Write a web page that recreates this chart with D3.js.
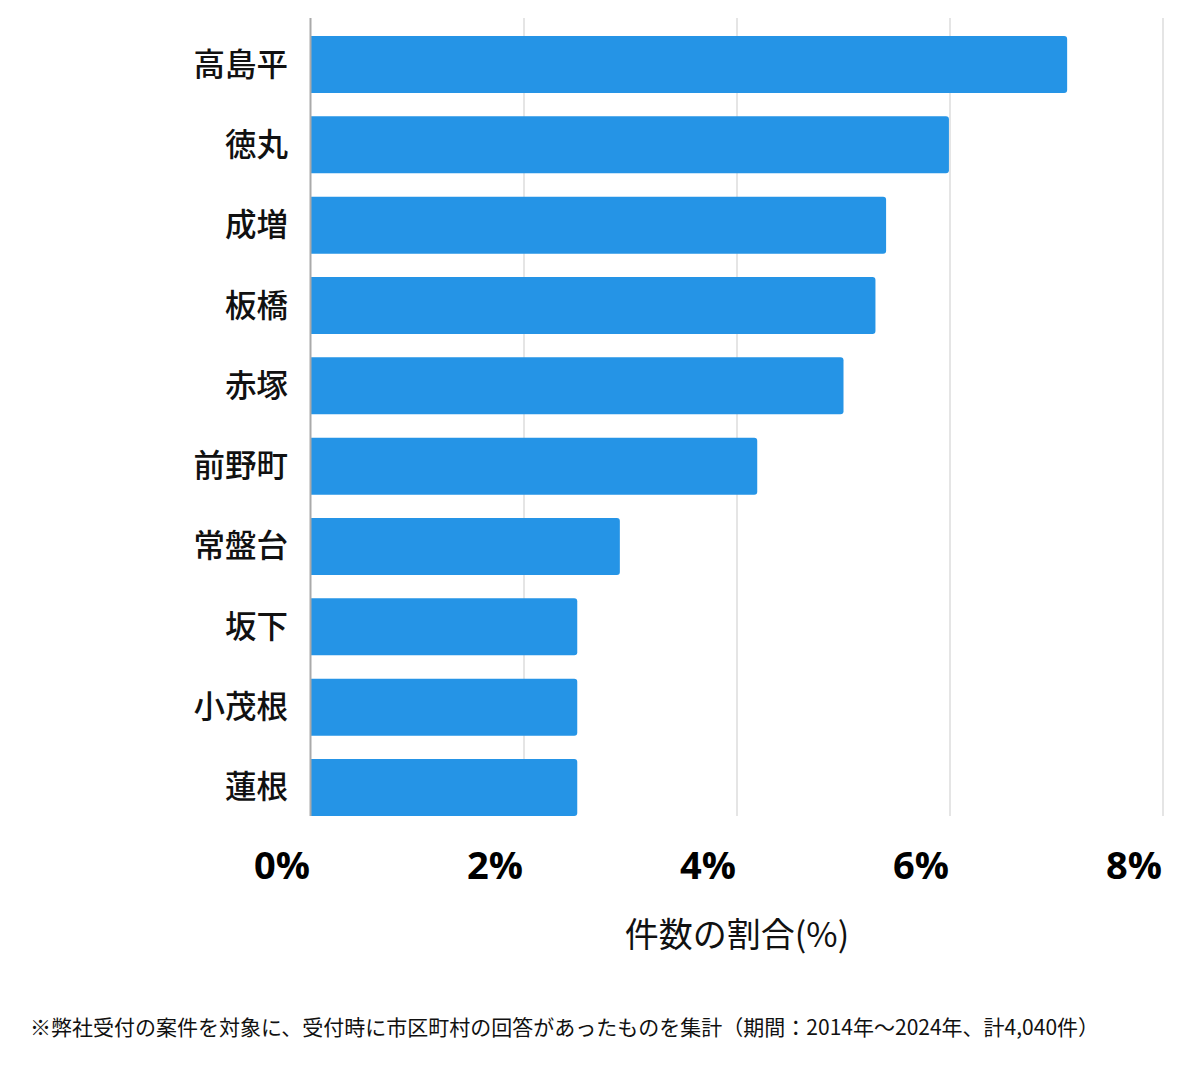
<!DOCTYPE html>
<html><head><meta charset="utf-8">
<script src="https://cdn.jsdelivr.net/npm/d3@7/dist/d3.min.js"></script>
<style>body{margin:0;background:#fff;font-family:"Noto Sans CJK JP","Noto Sans",sans-serif;}</style>
</head><body>
<svg id="c" width="1200" height="1069"></svg>
<script>
const categories = ["高島平","徳丸","成増","板橋","赤塚","前野町","常盤台","坂下","小茂根","蓮根"];
const values = [7.10, 5.99, 5.40, 5.30, 5.00, 4.19, 2.90, 2.50, 2.50, 2.50];
const ticks = [0, 2, 4, 6, 8];
const tickLabels = ["0%","2%","4%","6%","8%"];
const axisTitle = "件数の割合(%)";
const footnote = "※弊社受付の案件を対象に、受付時に市区町村の回答があったものを集計（期間：2014年～2024年、計4,040件）";

const svg = d3.select("#c");
const mLeft = 311, mRight = 1163, mTop = 18, mBottom = 834, gridBottom = 816;
const x = d3.scaleLinear().domain([0, 8]).range([mLeft, mRight]);
const y = d3.scaleBand().domain(categories).range([mTop, mBottom]).paddingInner(0.29).paddingOuter(0.224);

// gridlines
svg.append("g").selectAll("line").data(ticks.slice(1)).join("line")
  .attr("x1", d => x(d)).attr("x2", d => x(d))
  .attr("y1", mTop).attr("y2", gridBottom)
  .attr("stroke", "#dcdcdc").attr("stroke-width", 1.5);

// bars with rounded right corners
const r = 3;
svg.append("g").selectAll("path").data(categories).join("path")
  .attr("d", (c, i) => {
    const x0 = x(0), x1 = x(values[i]), y0 = y(c), h = y.bandwidth();
    return `M${x0},${y0}H${x1 - r}Q${x1},${y0} ${x1},${y0 + r}V${y0 + h - r}Q${x1},${y0 + h} ${x1 - r},${y0 + h}H${x0}Z`;
  })
  .attr("fill", "#2594e6");

// left axis line
svg.append("line").attr("x1", mLeft - 0.5).attr("x2", mLeft - 0.5).attr("y1", mTop).attr("y2", gridBottom)
  .attr("stroke", "#aaaaaa").attr("stroke-width", 2);

// category labels
svg.append("g").selectAll("text").data(categories).join("text")
  .attr("x", 288).attr("y", c => y(c) + y.bandwidth() / 2 - 3)
  .attr("text-anchor", "end").attr("dominant-baseline", "central")
  .attr("font-size", 31.5).attr("font-weight", 500).attr("fill", "#111")
  .text(c => c);

// tick labels
svg.append("g").selectAll("text").data(ticks).join("text")
  .attr("x", d => x(d) - 1).attr("y", 879)
  .attr("text-anchor", "end")
  .attr("font-family", "'Open Sans','Noto Sans',sans-serif")
  .attr("font-size", 38).attr("font-weight", 700).attr("fill", "#000")
  .text((d, i) => tickLabels[i]);

// axis title
svg.append("text").attr("x", 737).attr("y", 947).attr("text-anchor", "middle")
  .attr("font-size", 34).attr("fill", "#111").text(axisTitle);

// footnote
svg.append("text").attr("x", 30).attr("y", 1035)
  .attr("font-size", 21).attr("fill", "#111").text(footnote);
</script>
</body></html>
